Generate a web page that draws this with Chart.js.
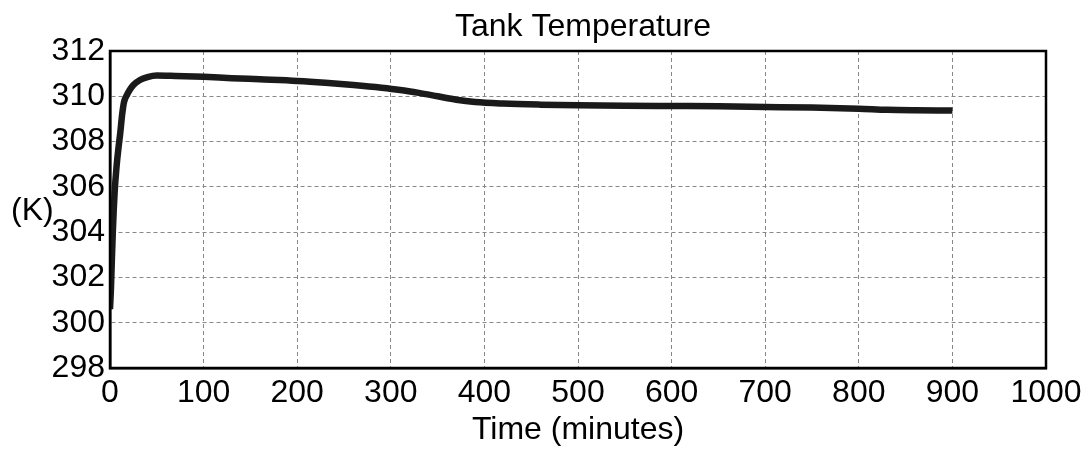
<!DOCTYPE html>
<html>
<head>
<meta charset="utf-8">
<script src="https://cdn.jsdelivr.net/npm/chart.js@4/dist/chart.umd.min.js"></script>
<style>
html,body{margin:0;padding:0;background:#fff;}
#wrap{width:1088px;height:450px;}
</style>
</head>
<body>
<div id="wrap"><canvas id="c" width="1088" height="450"></canvas></div>
<script>
const times = [0, 1, 2, 3, 4, 5, 7, 9, 11, 13, 15, 18, 21, 25, 32, 40, 50, 70, 100, 130, 160, 200, 230, 260, 290, 310, 330, 350, 370, 390, 420, 460, 500, 550, 600, 650, 700, 750, 800, 830, 860, 900];
const temps = [300.6, 301.5, 302.8, 304.0, 305.0, 305.8, 306.9, 307.7, 308.4, 309.2, 309.75, 310.05, 310.28, 310.5, 310.72, 310.85, 310.92, 310.9, 310.86, 310.8, 310.75, 310.68, 310.6, 310.5, 310.38, 310.28, 310.15, 310.0, 309.85, 309.75, 309.68, 309.63, 309.6, 309.58, 309.57, 309.56, 309.53, 309.5, 309.45, 309.4, 309.38, 309.37];
const xTicks = [0, 100, 200, 300, 400, 500, 600, 700, 800, 900, 1000];
const yTicks = [298, 300, 302, 304, 306, 308, 310, 312];
const chartTitle = 'Tank Temperature';
const xTitle = 'Time (minutes)';
const yTitle = '(K)';

const FONT = "'Liberation Sans', Arial, sans-serif";

const points = times.map((t, i) => ({x: t, y: temps[i]}));

const decor = {
  id: 'decor',
  afterDatasetsDraw(chart) {
    const {ctx, chartArea: a} = chart;
    ctx.save();
    ctx.strokeStyle = '#000';
    ctx.lineWidth = 2.5;
    ctx.setLineDash([]);
    ctx.strokeRect(a.left, a.top, a.right - a.left, a.bottom - a.top);
    ctx.fillStyle = '#000';
    ctx.font = "32px " + FONT;
    ctx.textBaseline = 'middle';
    ctx.textAlign = 'left';
    ctx.fillText(yTitle, 11, 211);
    ctx.textAlign = 'center';
    ctx.fillText(chartTitle, 583, 27);
    ctx.restore();
  }
};

new Chart(document.getElementById('c'), {
  type: 'line',
  data: {
    datasets: [{
      data: points,
      borderColor: '#1a1a1a',
      borderWidth: 6.5,
      pointRadius: 0,
      fill: false,
      cubicInterpolationMode: 'monotone'
    }]
  },
  options: {
    responsive: false,
    animation: false,
    layout: {padding: {left: 0, right: 42, top: 51, bottom: 0}},
    plugins: {
      legend: {display: false},
      tooltip: {enabled: false},
      title: {display: false}
    },
    scales: {
      x: {
        type: 'linear',
        min: 0, max: 1000,
        afterBuildTicks(s) { s.ticks = xTicks.map(v => ({value: v})); },
        afterFit(s) { s.height = 82; },
        ticks: {color: '#000', font: {family: FONT, size: 32}, padding: 6, maxRotation: 0, autoSkip: false,
                callback: v => String(v)},
        grid: {color: '#888', lineWidth: 1, drawTicks: false, tickLength: 0},
        border: {display: true, color: '#000', width: 2.5, dash: [4, 3]},
        title: {display: true, text: xTitle, color: '#000', font: {family: FONT, size: 32, lineHeight: 1.2}, padding: {top: 0, bottom: 1}}
      },
      y: {
        type: 'linear',
        min: 298, max: 312,
        afterBuildTicks(s) { s.ticks = yTicks.map(v => ({value: v})); },
        afterFit(s) { s.width = 110; },
        ticks: {color: '#000', font: {family: FONT, size: 32}, padding: 5, autoSkip: false,
                callback: v => String(v)},
        grid: {color: '#888', lineWidth: 1, drawTicks: false, tickLength: 0},
        border: {display: true, color: '#000', width: 2.5, dash: [4, 3]}
      }
    }
  },
  plugins: [decor]
});
</script>
</body>
</html>
